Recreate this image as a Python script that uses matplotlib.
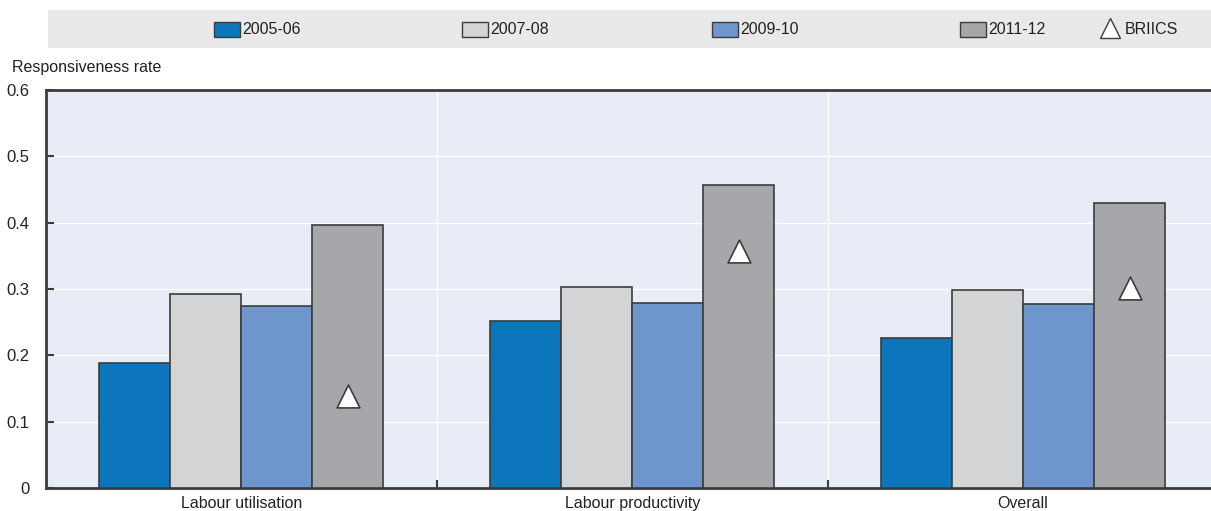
import matplotlib
matplotlib.use("Agg")
import matplotlib.pyplot as plt
import numpy as np
from matplotlib.patches import Rectangle
from matplotlib.lines import Line2D

categories = ["Labour utilisation", "Labour productivity", "Overall"]
series_names = ["2005-06", "2007-08", "2009-10", "2011-12"]
v_2005_06 = [0.188, 0.252, 0.226]
v_2007_08 = [0.293, 0.303, 0.299]
v_2009_10 = [0.275, 0.279, 0.278]
v_2011_12 = [0.397, 0.457, 0.430]
briics = [0.139, 0.358, 0.301]
yticks = [0, 0.1, 0.2, 0.3, 0.4, 0.5, 0.6]
ytick_labels = ["0", "0.1", "0.2", "0.3", "0.4", "0.5", "0.6"]

colors = ["#0b76bb", "#d3d4d6", "#6e96cd", "#a6a7aa"]
edge = "#3c3c3c"
FONT = ["Liberation Sans", "DejaVu Sans"]
plt.rcParams["font.family"] = FONT

W, H = 1211, 511
fig = plt.figure(figsize=(W / 100, H / 100), dpi=100)
ax = fig.add_axes([46 / W, 1 - 488 / H, (1218.5 - 46) / W, (488 - 90) / H])
ax.set_facecolor("#e8ecf6")

x = np.arange(len(categories))
bw = 0.1816
allvals = [v_2005_06, v_2007_08, v_2009_10, v_2011_12]
for i, vals in enumerate(allvals):
    ax.bar(x + (i - 1.5) * bw, vals, width=bw, color=colors[i], edgecolor=edge,
           linewidth=1.2, zorder=3)
ax.scatter(x + 1.5 * bw, briics, marker="^", s=270, facecolor="white",
           edgecolor=edge, linewidth=1.2, zorder=4)

ax.set_xlim(-0.5, 2.5)
ax.set_ylim(0, 0.6)
ax.set_yticks(yticks)
ax.set_yticklabels(ytick_labels, fontsize=12, color="#222222")
ax.set_xticks([0.5, 1.5], minor=False)
ax.set_xticklabels([])
ax.tick_params(axis="x", direction="in", length=6, width=1.5, color=edge)
ax.tick_params(axis="y", direction="in", length=6, width=1.5, color=edge, pad=12)
for i, c in enumerate(categories):
    ax.text(i, -0.012, c, ha="center", va="top", fontsize=11.5, color="#222222",
            transform=ax.transData)
ax.grid(True, color="white", linewidth=1.0, zorder=0)
ax.set_axisbelow(True)
for s in ["left", "bottom", "top"]:
    ax.spines[s].set_color(edge)
    ax.spines[s].set_linewidth(2)
ax.spines["right"].set_visible(False)

fig.text(12 / W, 1 - 67 / H, "Responsiveness rate", fontsize=11.5, color="#222222",
         va="center", ha="left")

# legend band
fig.patches.append(Rectangle((48 / W, 1 - 48 / H), (W - 48) / W, 38 / H,
                             transform=fig.transFigure, facecolor="#e9e9ea",
                             edgecolor="none", zorder=0))
leg_y = 1 - 29.5 / H
patch_x = [214, 462, 712, 960]
for px, name, col in zip(patch_x, series_names, colors):
    fig.patches.append(Rectangle((px / W, 1 - 37 / H), 26 / W, 15 / H,
                                 transform=fig.transFigure, facecolor=col,
                                 edgecolor=edge, linewidth=1.0, zorder=2))
    fig.text((px + 28) / W, leg_y, name, fontsize=11.5, color="#222222",
             va="center", ha="left")
fig.lines.append(Line2D([1110 / W], [leg_y + 1 / H], marker="^", markersize=14,
                        markerfacecolor="white", markeredgecolor=edge,
                        markeredgewidth=1.0, transform=fig.transFigure))
fig.text(1125 / W, leg_y, "BRIICS", fontsize=11.5, color="#222222",
         va="center", ha="left")

fig.savefig("out.png", dpi=100)
